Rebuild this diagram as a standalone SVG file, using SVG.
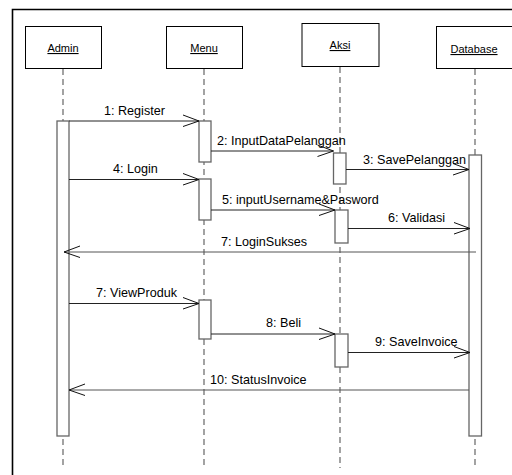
<svg xmlns="http://www.w3.org/2000/svg" width="512" height="475" viewBox="0 0 512 475">
<defs>
<style>
.frame{fill:none;stroke:#000;stroke-width:1.6}
.box{fill:#fff;stroke:#000;stroke-width:1}
.life{stroke:#666;stroke-width:1.2;stroke-dasharray:6,4;fill:none}
.act{fill:#fff;stroke:#666;stroke-width:1.3}
.msg{stroke:#222;stroke-width:1;fill:none}
.ret{stroke:#555;stroke-width:1;fill:none}
.head{stroke:#111;stroke-width:1;fill:none}
.lbl{font-family:"Liberation Sans",Arial,sans-serif;font-size:12.6px;fill:#000}
.name{font-family:"Liberation Sans",Arial,sans-serif;font-size:11px;fill:#000;text-anchor:middle;text-decoration:underline}
</style>
</defs>
<rect width="512" height="475" fill="#fff"/>
<path class="frame" d="M12.5,480 V9.5 H520"/>

<g id="lifelines">
<line class="life" x1="63" y1="69" x2="63" y2="468"/>
<line class="life" x1="204" y1="69" x2="204" y2="468"/>
<line class="life" x1="340" y1="67" x2="340" y2="468"/>
<line class="life" x1="475" y1="69" x2="475" y2="468"/>
</g>

<g id="admin">
<rect class="box" x="25.5" y="26.5" width="76" height="42"/>
<text class="name" x="63" y="52">Admin</text>
<rect class="act" x="57" y="121" width="12" height="315"/>
</g>
<g id="menu">
<rect class="box" x="166.5" y="26.5" width="76" height="42"/>
<text class="name" x="204" y="52">Menu</text>
<rect class="act" x="199" y="121" width="12" height="41"/>
<rect class="act" x="199" y="179" width="12" height="41"/>
<rect class="act" x="199" y="300" width="12" height="39"/>
</g>
<g id="aksi">
<rect class="box" x="302" y="23.5" width="77" height="43"/>
<text class="name" x="340" y="49">Aksi</text>
<rect class="act" x="333.5" y="153" width="12.5" height="31"/>
<rect class="act" x="335" y="210" width="13" height="33"/>
<rect class="act" x="335" y="334" width="13" height="33"/>
</g>
<g id="database">
<rect class="box" x="436.5" y="26.5" width="80" height="42"/>
<text class="name" x="474" y="53">Database</text>
<rect class="act" x="469" y="155" width="12.5" height="281"/>
</g>

<g id="connectors">
<line class="msg" x1="69" y1="121" x2="199" y2="121"/>
<path class="head" d="M183,115 L199,121 L183,126.5"/>
<line class="msg" x1="211" y1="151" x2="333.5" y2="151"/>
<path class="head" d="M317.5,145 L333.5,151 L317.5,156.5"/>
<line class="msg" x1="346" y1="169.5" x2="469" y2="169.5"/>
<path class="head" d="M453,163.5 L469,169.5 L453,175"/>
<line class="msg" x1="69" y1="179.5" x2="199" y2="179.5"/>
<path class="head" d="M183,173.5 L199,179.5 L183,185"/>
<line class="msg" x1="211" y1="210" x2="335" y2="210"/>
<path class="head" d="M319,204 L335,210 L319,215.5"/>
<line class="msg" x1="348" y1="228.5" x2="470" y2="228.5"/>
<path class="head" d="M454,222.5 L470,228.5 L454,234"/>
<line class="ret" x1="476" y1="252" x2="64" y2="252"/>
<path class="head" d="M80,246 L64,252 L80,257.5"/>
<line class="msg" x1="69" y1="303.5" x2="199" y2="303.5"/>
<path class="head" d="M183,297.5 L199,303.5 L183,309"/>
<line class="msg" x1="211" y1="334" x2="335" y2="334"/>
<path class="head" d="M319,328 L335,334 L319,339.5"/>
<line class="msg" x1="348" y1="352.5" x2="470" y2="352.5"/>
<path class="head" d="M454,346.5 L470,352.5 L454,358"/>
<line class="ret" x1="469" y1="390" x2="69" y2="390"/>
<path class="head" d="M85,384 L69,390 L85,395.5"/>
</g>

<g id="labels">
<text class="lbl" x="104" y="115">1: Register</text>
<text class="lbl" x="217" y="145">2: InputDataPelanggan</text>
<text class="lbl" x="363" y="164">3: SavePelanggan</text>
<text class="lbl" x="113" y="173">4: Login</text>
<text class="lbl" x="222" y="204">5: inputUsername&amp;Pasword</text>
<text class="lbl" x="388" y="222">6: Validasi</text>
<text class="lbl" x="221" y="246">7: LoginSukses</text>
<text class="lbl" x="96" y="297">7: ViewProduk</text>
<text class="lbl" x="266" y="327">8: Beli</text>
<text class="lbl" x="375" y="346">9: SaveInvoice</text>
<text class="lbl" x="210" y="384">10: StatusInvoice</text>
</g>
</svg>
